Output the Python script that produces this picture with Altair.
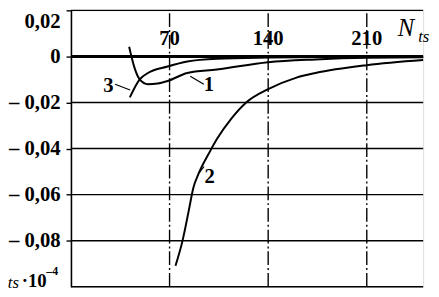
import altair as alt
import pandas as pd

# ---- data ----
curve1_N = [41.3, 45.2, 48.8, 54.6, 61.6, 68.6, 82.6, 103.6, 140, 173.6, 210, 250]
curve1_v = [0.0042, -0.0051, -0.0100, -0.0121, -0.0118, -0.0107, -0.0072, -0.0057,
            -0.0025, -0.0013, -0.0006, -0.0004]

curve2_N = [74.2, 79.1, 83.8, 86.8, 90.8, 98.9, 103.6, 114, 124.6, 140, 159.6, 173.6, 210, 250]
curve2_v = [-0.0909, -0.0803, -0.0664, -0.0572, -0.0506, -0.0410, -0.0359, -0.0269,
            -0.0199, -0.0142, -0.0093, -0.0072, -0.0038, -0.0016]

curve3_N = [41.8, 48.8, 54.6, 68.6, 82.6, 103.6, 140, 180, 250]
curve3_v = [-0.0178, -0.0100, -0.0072, -0.0044, -0.0022, -0.0010, -0.0005, -0.0003, -0.0002]

y_ticks = [0.02, 0, -0.02, -0.04, -0.06, -0.08]
y_lines = [0.02, -0.02, -0.04, -0.06, -0.08, -0.10]
x_lines = [70, 140, 210]
x_tick_labels = ["70", "140", "210"]

curve_labels = ["1", "2", "3"]
curve_label_N = [98.0, 98.4, 26.6]
curve_label_v = [-0.0123, -0.0526, -0.0127]

leaders = [  # (curve, N1, v1, N2, v2)
    ("1", 84.7, -0.0086, 94.3, -0.0121),
    ("2", 91.0, -0.0506, 94.5, -0.0478),
    ("3", 31.3, -0.0121, 42.0, -0.0146),
]

XDOM = [0, 250]
YDOM = [-0.10, 0.02]
FONT = "Liberation Serif"

# ---- tables ----
rows = []
for name, ns, vs in [("1", curve1_N, curve1_v), ("2", curve2_N, curve2_v), ("3", curve3_N, curve3_v)]:
    for n, v in zip(ns, vs):
        rows.append({"curve": name, "N": n, "v": v})
curves = pd.DataFrame(rows)

x_scale = alt.Scale(domain=XDOM, nice=False, zero=False)
y_scale = alt.Scale(domain=YDOM, nice=False, zero=False)

hgrid = alt.Chart(pd.DataFrame({"y": y_lines, "x0": XDOM[0], "x1": XDOM[1]})).mark_rule(
    color="black", strokeWidth=1.4
).encode(
    y=alt.Y("y:Q", scale=y_scale,
            axis=alt.Axis(values=y_ticks, grid=False, title=None,
                          labelExpr="datum.value == 0 ? '0' : (datum.value < 0 ? '\u2013 ' : '') + replace(format(abs(datum.value), '.2f'), '.', ',')",
                          labelFont=FONT, labelFontSize=21, labelFontWeight="bold",
                          labelColor="black", labelFlush=True, labelFlushOffset=0,
                          labelPadding=6, tickSize=5, tickColor="black", tickWidth=1.4,
                          domainColor="black", domainWidth=1.6)),
    x=alt.X("x0:Q", scale=x_scale, axis=None),
    x2="x1:Q",
)

zero_line = alt.Chart(pd.DataFrame({"y": [0.0], "x0": XDOM[0], "x1": XDOM[1]})).mark_rule(
    color="black", strokeWidth=3
).encode(y=alt.Y("y:Q", scale=y_scale), x=alt.X("x0:Q", scale=x_scale), x2="x1:Q")

vgrid = alt.Chart(pd.DataFrame({"x": x_lines, "y0": YDOM[0], "y1": YDOM[1]})).mark_rule(
    color="black", strokeWidth=1.4, strokeDash=[14, 3, 2, 3]
).encode(x=alt.X("x:Q", scale=x_scale), y=alt.Y("y0:Q", scale=y_scale), y2="y1:Q")

lines = alt.Chart(curves).mark_line(color="black", strokeWidth=2, interpolate="monotone").encode(
    x=alt.X("N:Q", scale=x_scale),
    y=alt.Y("v:Q", scale=y_scale),
    detail="curve:N",
)

lead_df = pd.DataFrame(leaders, columns=["curve", "N1", "v1", "N2", "v2"])
lead = alt.Chart(lead_df).mark_rule(color="black", strokeWidth=1.2).encode(
    x=alt.X("N1:Q", scale=x_scale), x2="N2:Q",
    y=alt.Y("v1:Q", scale=y_scale), y2="v2:Q",
)

lab_df = pd.DataFrame({"t": curve_labels, "N": curve_label_N, "v": curve_label_v})
labs = alt.Chart(lab_df).mark_text(
    font=FONT, fontSize=21, fontWeight="bold", color="black", align="center", baseline="middle"
).encode(x=alt.X("N:Q", scale=x_scale), y=alt.Y("v:Q", scale=y_scale), text="t:N")

xl_df = pd.DataFrame({"t": x_tick_labels, "N": x_lines, "v": [0.0048] * 3})
xlabs = alt.Chart(xl_df).mark_text(
    font=FONT, fontSize=21, fontWeight="bold", color="black", align="center", baseline="alphabetic"
).encode(x=alt.X("N:Q", scale=x_scale), y=alt.Y("v:Q", scale=y_scale), text="t:N")

# axis titles
n_title = alt.Chart(pd.DataFrame({"t": ["N"], "N": [232.0], "v": [0.0088]})).mark_text(
    font=FONT, fontSize=25, fontStyle="italic", color="black", align="left", baseline="alphabetic"
).encode(x=alt.X("N:Q", scale=x_scale), y=alt.Y("v:Q", scale=y_scale), text="t:N")
n_sub = alt.Chart(pd.DataFrame({"t": ["ts"], "N": [246.5], "v": [0.0062]})).mark_text(
    font=FONT, fontSize=17, fontStyle="italic", color="black", align="left", baseline="alphabetic"
).encode(x=alt.X("N:Q", scale=x_scale), y=alt.Y("v:Q", scale=y_scale), text="t:N")

y_t1 = alt.Chart(pd.DataFrame({"t": ["ts"], "N": [-44.8], "v": [-0.1005]})).mark_text(
    font=FONT, fontSize=17, fontStyle="italic", color="black", align="left", baseline="alphabetic"
).encode(x=alt.X("N:Q", scale=x_scale), y=alt.Y("v:Q", scale=y_scale), text="t:N")
y_t2 = alt.Chart(pd.DataFrame({"t": ["\u00b710"], "N": [-35.0], "v": [-0.1002]})).mark_text(
    font=FONT, fontSize=19, fontWeight="bold", color="black", align="left", baseline="alphabetic"
).encode(x=alt.X("N:Q", scale=x_scale), y=alt.Y("v:Q", scale=y_scale), text="t:N")
y_t3 = alt.Chart(pd.DataFrame({"t": ["\u20134"], "N": [-17.5], "v": [-0.0950]})).mark_text(
    font=FONT, fontSize=12, fontWeight="bold", color="black", align="left", baseline="alphabetic"
).encode(x=alt.X("N:Q", scale=x_scale), y=alt.Y("v:Q", scale=y_scale), text="t:N")

chart = alt.layer(
    hgrid, vgrid, zero_line, lines, lead, labs, xlabs, n_title, n_sub, y_t1, y_t2, y_t3
).properties(
    width=358, height=281,
    autosize=alt.AutoSizeParams(type="none"),
    padding={"left": 64, "top": 0, "right": 8, "bottom": 6},
).configure_view(stroke=None).configure(background="white")

chart.save("out.html", embed_options={"renderer": "svg", "actions": False})
